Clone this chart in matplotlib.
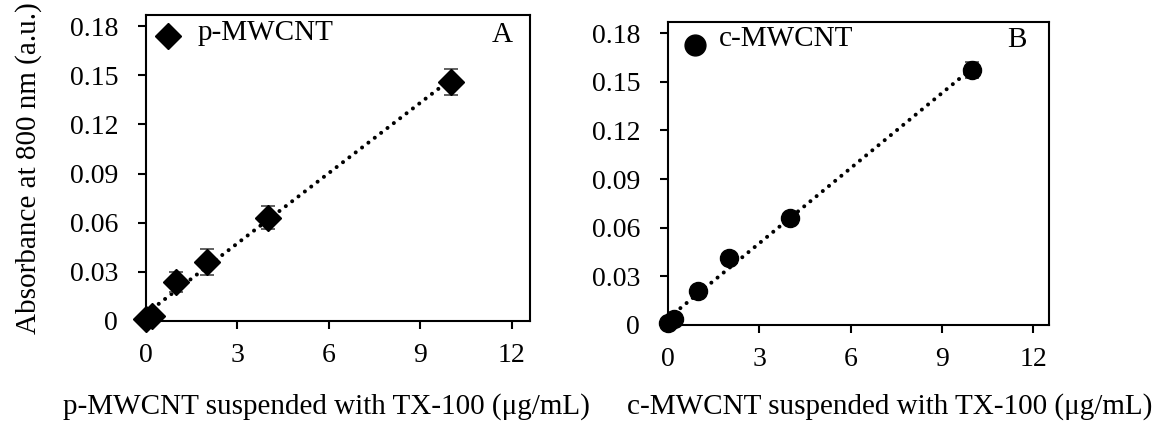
import numpy as np
import matplotlib
matplotlib.use("Agg")
import matplotlib.pyplot as plt

plt.rcParams['font.family'] = ['Liberation Serif', 'DejaVu Serif']
plt.rcParams['font.size'] = 21

# concentration (ug/mL)
conc = [0, 0.2, 1, 2, 4, 10]

# p-MWCNT absorbance and error
abs_p = [0.001, 0.003, 0.024, 0.036, 0.063, 0.146]
err_p = [0.0005, 0.001, 0.006, 0.008, 0.007, 0.008]

# c-MWCNT absorbance and error
abs_c = [0.001, 0.004, 0.021, 0.041, 0.066, 0.157]
err_c = [0.0005, 0.001, 0.002, 0.002, 0.002, 0.005]

yticks = [0, 0.03, 0.06, 0.09, 0.12, 0.15, 0.18]
ytick_labels = ['0', '0.03', '0.06', '0.09', '0.12', '0.15', '0.18']
xticks = [0, 3, 6, 9, 12]

fig = plt.figure(figsize=(11.62, 4.25), dpi=100)
axA = fig.add_axes([146 / 1162, 1 - 321 / 425, 384 / 1162, 306 / 425])
axB = fig.add_axes([668 / 1162, 1 - 325 / 425, 381 / 1162, 303 / 425])


def panel(ax, x, y, e, marker, ms, lms, name, letter, xlab, xlim, labpos, leg):
    k, b = np.polyfit(x, y, 1)
    xx = np.array([x[0], x[-1]])
    ax.plot(xx, k * xx + b, color='black', lw=2.9,
            linestyle=(0, (0.01, 1.98)), dash_capstyle='round', zorder=2)
    ax.errorbar(x, y, yerr=e, fmt='none', ecolor='#555555', elinewidth=1.3,
                capsize=5, capthick=1.3, zorder=3)
    ax.plot(x, y, linestyle='none', marker=marker, ms=ms, color='black',
            zorder=4, clip_on=False)
    ax.set_xlim(*xlim)
    ax.set_ylim(0, 0.1868)
    ax.set_xticks(xticks)
    ax.set_yticks(yticks)
    ax.set_yticklabels(ytick_labels)
    for s in ax.spines.values():
        s.set_linewidth(1.5)
    ax.tick_params(direction='out', length=6, width=1.5, labelsize=20)
    ax.tick_params(axis='x', pad=10)
    ax.tick_params(axis='y', pad=14)
    ax.set_xlabel(xlab, va='center')
    ax.xaxis.set_label_coords(*labpos)
    # legend-like label
    mx, my, tx, ty, lx, ly = leg
    ax.plot([mx], [my], transform=ax.transAxes, marker=marker,
            ms=lms, color='black', linestyle='none')
    ax.text(tx, ty, name, transform=ax.transAxes, va='center', ha='left')
    ax.text(lx, ly, letter, transform=ax.transAxes, va='center', ha='center')


panel(axA, conc, abs_p, err_p, 'D', 13, 13, 'p-MWCNT', 'A',
      'p-MWCNT suspended with TX-100 (\u03bcg/mL)', (0, 12.6),
      (0.471, (321 - 407) / 306),
      (0.057, 0.931, 0.135, 0.941, 0.927, 0.935))
panel(axB, conc, abs_c, err_c, 'o', 13, 15, 'c-MWCNT', 'B',
      'c-MWCNT suspended with TX-100 (\u03bcg/mL)', (0.05, 12.52),
      (0.583, (325 - 407) / 303),
      (0.071, 0.924, 0.134, 0.944, 0.916, 0.94))
axA.set_ylabel('Absorbance at 800 nm (a.u.)', labelpad=20)

fig.savefig('out.png', dpi=100)
